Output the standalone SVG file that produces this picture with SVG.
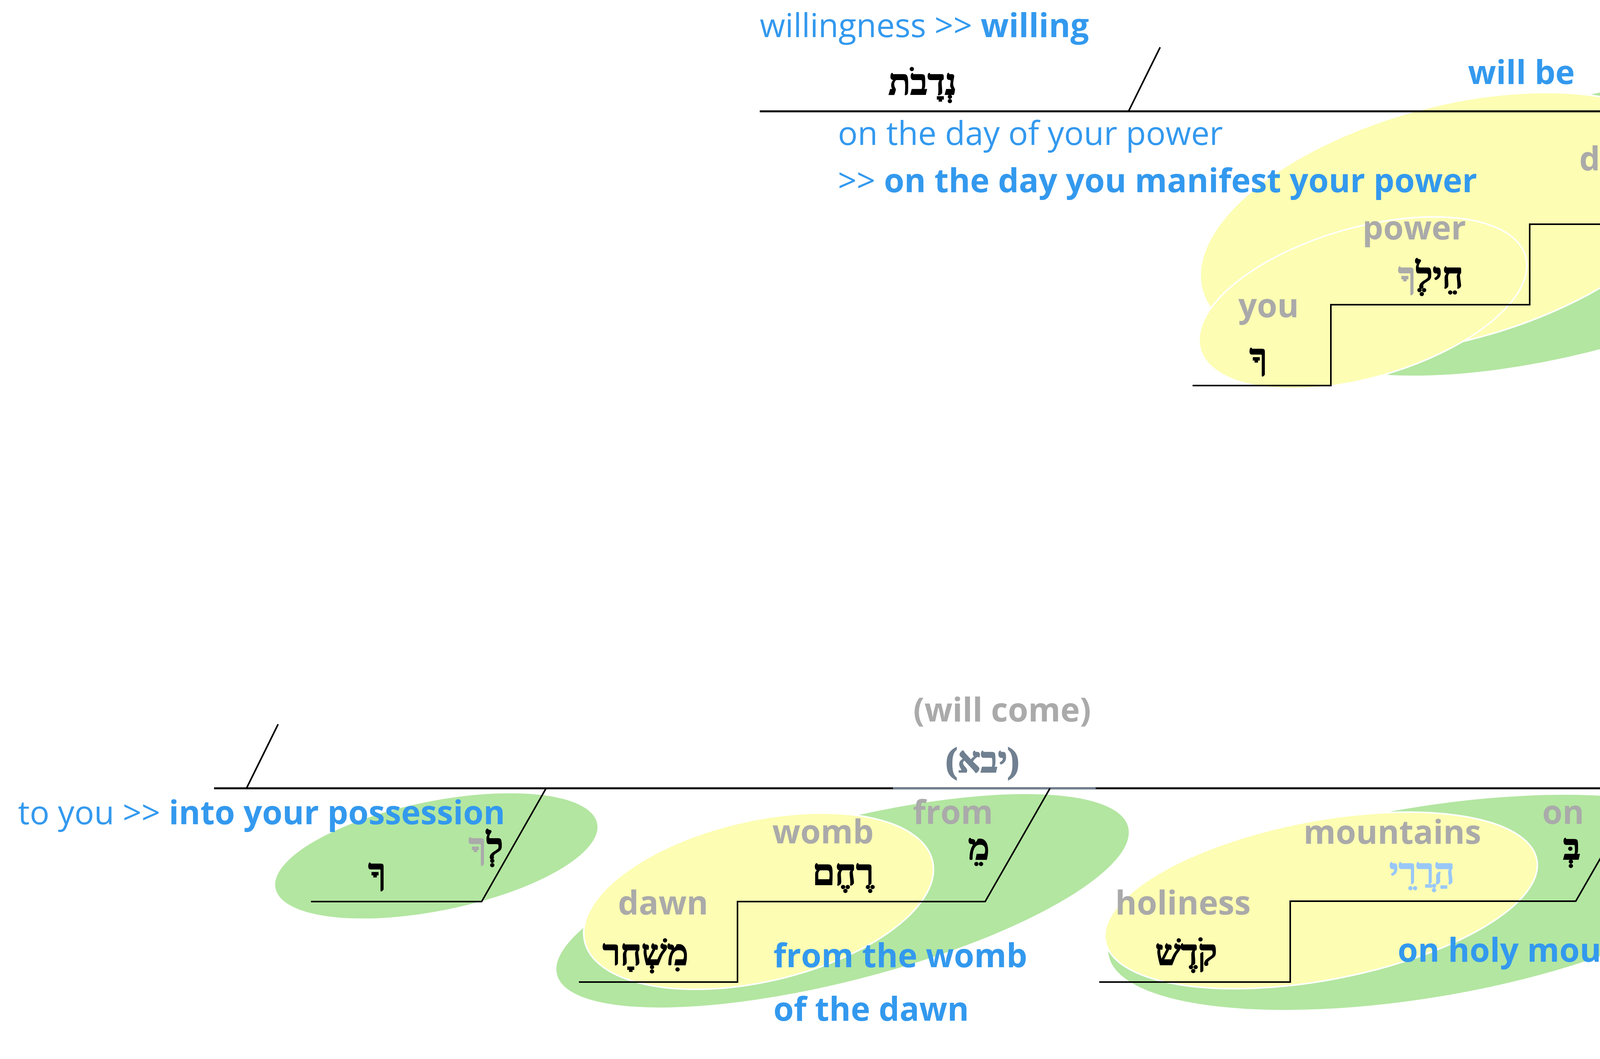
<svg xmlns="http://www.w3.org/2000/svg" width="5901" height="2711" viewBox="0 0 5901 2711">
<style>
.bg{fill:#ffffff}
.gr{fill:#b3e6a1;stroke:#ffffff;stroke-width:4}
.ye{fill:#fdfdb3;stroke:#ffffff;stroke-width:4}
.ln{fill:none;stroke:#000000;stroke-width:4}
.bl{fill:none;stroke:#000000;stroke-width:5}
.en{font-family:"Open Sans","Noto Sans","Liberation Sans",sans-serif;font-size:84px}
.b{font-weight:bold}
.blue{fill:#3399ee}
.gray{fill:#aaaaaa}
.he{font-family:"Liberation Serif","DejaVu Serif",serif;font-size:92px;font-weight:bold;fill:#000000;stroke:#000000;stroke-width:2.5}
.hg{fill:#aaaaaa;stroke:#aaaaaa}
.hlb{fill:#99c8f8;stroke:#99c8f8}
.slate{fill:#708090;stroke:#708090}
</style>
<rect class="bg" x="0" y="0" width="5901" height="2711"/>

<g id="ellipses">
<ellipse class="gr" cx="4060" cy="574" rx="867" ry="320" transform="rotate(-16 4060 574)"/>
<ellipse class="ye" cx="3708" cy="573" rx="653" ry="301" transform="rotate(-15 3708 573)"/>
<ellipse class="ye" cx="3489" cy="775" rx="433" ry="192" transform="rotate(-16 3489 775)"/>
<ellipse class="ye" cx="5405" cy="282" rx="440" ry="205" transform="rotate(-14 5405 282)"/>
<ellipse class="gr" cx="1117" cy="2191" rx="422" ry="142" transform="rotate(-11.4 1117 2191)"/>
<ellipse class="gr" cx="2157" cy="2306" rx="757" ry="206" transform="rotate(-14.5 2157 2306)"/>
<ellipse class="ye" cx="1942" cy="2307" rx="457" ry="206" transform="rotate(-13 1942 2307)"/>
<ellipse class="gr" cx="3647" cy="2310" rx="822" ry="246" transform="rotate(-9.4 3647 2310)"/>
<ellipse class="ye" cx="3382" cy="2305" rx="562" ry="204" transform="rotate(-10.7 3382 2305)"/>
<ellipse class="ye" cx="5197" cy="2016" rx="644" ry="305" transform="rotate(-13.35 5197 2016)"/>
<ellipse class="ye" cx="4973" cy="2219" rx="422" ry="207" transform="rotate(-13.35 4973 2219)"/>
</g>

<g id="connectors">
<line class="bl" x1="1945" y1="285" x2="5840" y2="285"/>
<line class="ln" x1="2889" y1="285" x2="2970" y2="121"/>
<line class="ln" x1="4793" y1="121" x2="4793" y2="368"/>
<path class="ln" d="M3053,987 H3407 V780 H3916 V574 H4449 L4614,285"/>
<path class="ln" d="M4958,492 H5311 V285"/>
<line class="bl" x1="548" y1="2018" x2="5841" y2="2018"/>
<line class="bl" x1="2286" y1="2018" x2="2805" y2="2018" style="stroke:#708090"/>
<line class="ln" x1="631" y1="2018" x2="712" y2="1854"/>
<line class="ln" x1="4378" y1="1861" x2="4378" y2="2100"/>
<path class="ln" d="M796,2308 H1233 L1398,2018"/>
<path class="ln" d="M1482,2514 H1888 V2308 H2522 L2688,2018"/>
<path class="ln" d="M2814,2514 H3303 V2307 H4034 L4200,2018"/>
<path class="ln" d="M4544,2431 H4897 V2224 H5389 V2018"/>
</g>

<g id="clause-top">
<text class="en blue" x="1945" y="95">willingness &gt;&gt; <tspan class="b">willing</tspan></text>
<text class="he" x="2449" y="242" text-anchor="end">נְדָבֹת</text>
<text class="en blue" x="2145" y="371">on the day of your power</text>
<text class="en blue" x="2145" y="492">&gt;&gt; <tspan class="b">on the day you manifest your power</tspan></text>
<text class="en blue b" x="3758" y="215">will be</text>
</g>

<g id="node-on-day">
<text class="en gray b" x="4376" y="394">on</text>
<text class="he" x="4459" y="464" text-anchor="end">בְּ</text>
<text class="en gray b" x="4043" y="436">day</text>
<text class="he" x="4210" y="530" text-anchor="end">יוֹם</text>
</g>

<g id="node-power">
<text class="en gray b" x="3488" y="613">power</text>
<text class="he" x="3746" y="737" text-anchor="end">חֵילֶ<tspan class="hg">ךָ</tspan></text>
<text class="en gray b" x="3170" y="812">you</text>
<text class="he" x="3244" y="945" text-anchor="end">ךָ</text>
</g>

<g id="node-people">
<text class="en blue b" x="4882" y="144">your people</text>
<text class="en gray b" x="5461" y="144">people</text>
<text class="he" x="5653" y="242" text-anchor="end">עַמְּ<tspan class="hg">ךָ</tspan></text>
<text class="en gray b" x="4958" y="396">you</text>
<text class="he" x="5148" y="446" text-anchor="end">ךָ</text>
</g>

<g id="node-to-you">
<text class="en blue" x="46" y="2110">to you &gt;&gt; <tspan class="b">into your possession</tspan></text>
<text class="he" x="1288" y="2198" text-anchor="end">לְ<tspan class="hg">ךָ</tspan></text>
<text class="he" x="988" y="2263" text-anchor="end">ךָ</text>
</g>

<g id="node-verb">
<text class="en gray b" x="2338" y="1847">(will come)</text>
<text class="he slate" x="2515" y="1977" text-anchor="middle">(יבא)</text>
</g>

<g id="node-womb">
<text class="en gray b" x="2337" y="2109">from</text>
<text class="he" x="2533" y="2200" text-anchor="end">מֵ</text>
<text class="en gray b" x="1977" y="2159">womb</text>
<text class="he" x="2237" y="2265" text-anchor="end">רֶחֶם</text>
<text class="en gray b" x="1582" y="2341">dawn</text>
<text class="he" x="1762" y="2470" text-anchor="end">מִשְׁחָר</text>
<text class="en blue b" x="1980" y="2476">from the womb</text>
<text class="en blue b" x="1980" y="2613">of the dawn</text>
</g>

<g id="node-mountains">
<text class="en gray b" x="3948" y="2109">on</text>
<text class="he" x="4046" y="2200" text-anchor="end">בְּ</text>
<text class="en gray b" x="3337" y="2160">mountains</text>
<text class="he hlb" x="3724" y="2262" text-anchor="end">הַרֲרֵי</text>
<text class="en gray b" x="2855" y="2341">holiness</text>
<text class="he" x="3116" y="2470" text-anchor="end">קֹדֶשׁ</text>
<text class="en blue b" x="3578" y="2462">on holy mountains</text>
</g>

<g id="node-dew">
<text class="en blue" x="4453" y="1665">the dew of your youth &gt;&gt;</text>
<text class="en blue b" x="4453" y="1787">the dew, your young men</text>
<text class="en gray b" x="5566" y="1875">dew</text>
<text class="he" x="5688" y="1976" text-anchor="end">טַל</text>
<text class="en gray b" x="4869" y="2110">youth</text>
<text class="he" x="5252" y="2190" text-anchor="end">יַלְדֻתֶי<tspan class="hg">ךָ</tspan></text>
<text class="en gray b" x="4623" y="2229">you</text>
<text class="he" x="4735" y="2387" text-anchor="end">ךָ</text>
</g>
</svg>
